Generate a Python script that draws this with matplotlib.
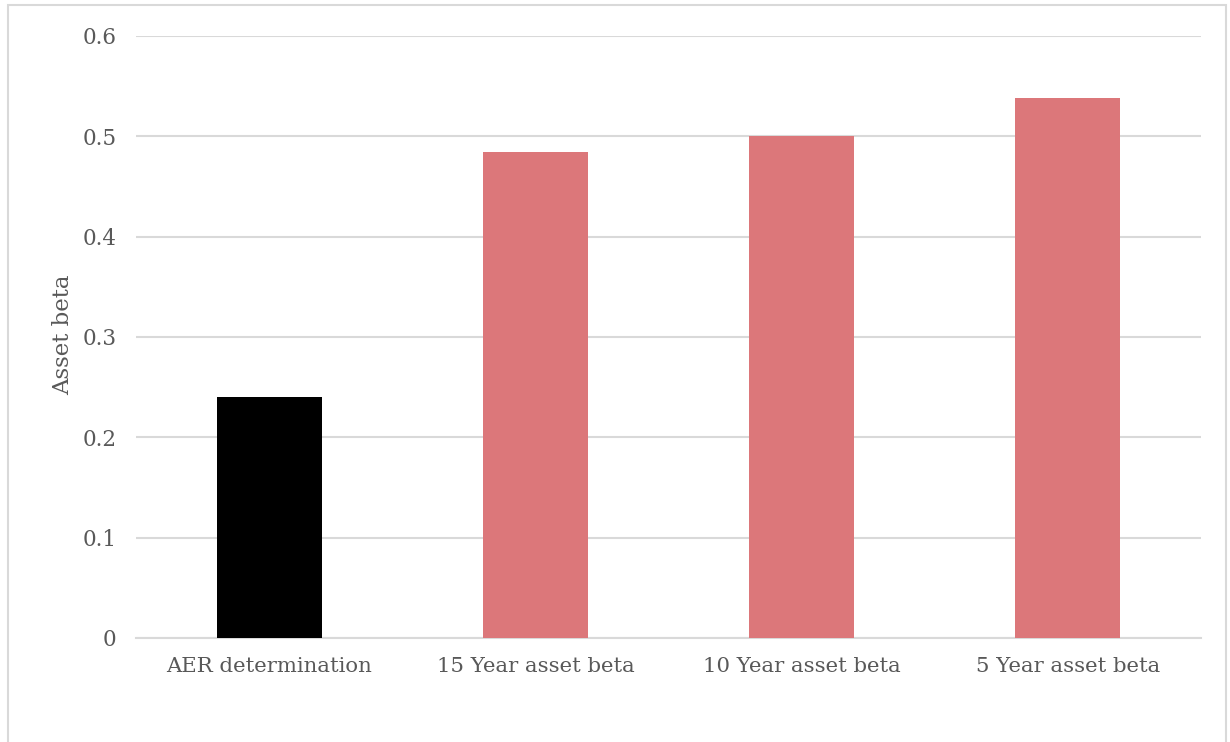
import matplotlib
matplotlib.use("Agg")
import matplotlib.pyplot as plt
from matplotlib.patches import Rectangle

categories = ["AER determination", "15 Year asset beta", "10 Year asset beta", "5 Year asset beta"]
values = [0.24, 0.484, 0.50, 0.538]
bar_colors = ["#000000", "#DC777A", "#DC777A", "#DC777A"]
y_ticks = [0, 0.1, 0.2, 0.3, 0.4, 0.5, 0.6]
y_tick_labels = ["0", "0.1", "0.2", "0.3", "0.4", "0.5", "0.6"]

text_color = "#595959"
grid_color = "#D9D9D9"
font = "DejaVu Serif"

fig = plt.figure(figsize=(12.3, 7.42), dpi=100)
fig.patches.append(Rectangle((0.0065, -0.01), 0.99, 1.003, transform=fig.transFigure,
                             fill=False, edgecolor="#D9D9D9", linewidth=1.5))

ax = fig.add_axes([0.1106, 0.1402, 0.8658, 0.8113])
x = range(len(categories))
ax.bar(x, values, width=0.395, color=bar_colors, zorder=3)

ax.set_xlim(-0.5, len(categories) - 0.5)
ax.set_ylim(0, 0.6)
ax.set_yticks(y_ticks)
ax.set_yticklabels(y_tick_labels, fontsize=15.5, color=text_color, family=font)
ax.set_xticks(list(x))
ax.set_xticklabels(categories, fontsize=15.3, color=text_color, family=font)
ax.tick_params(axis="both", length=0)
ax.tick_params(axis="y", pad=14)
ax.tick_params(axis="x", pad=14)

ax.yaxis.grid(True, color=grid_color, linewidth=1.5, zorder=0)
for side in ["top", "right", "left"]:
    ax.spines[side].set_visible(False)
ax.spines["bottom"].set_color(grid_color)
ax.spines["bottom"].set_linewidth(1.5)

ax.set_ylabel("Asset beta", fontsize=16.5, color=text_color, family=font)
ax.yaxis.set_label_coords(-0.058, 0.503)

fig.savefig("out.png", dpi=100)
